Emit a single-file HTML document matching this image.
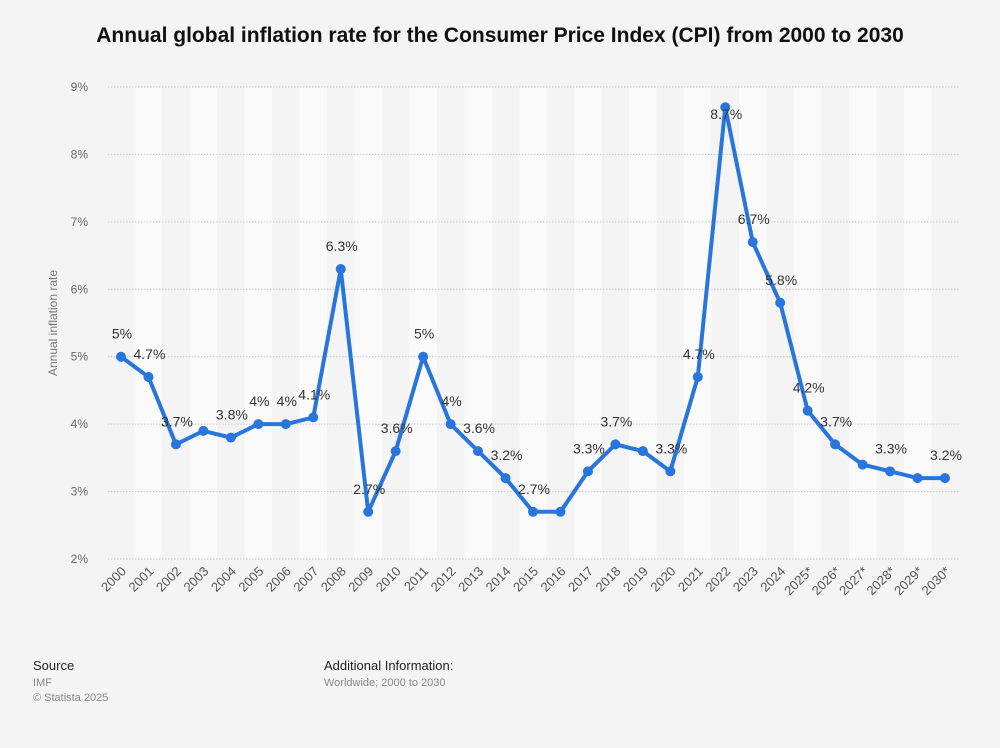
<!DOCTYPE html>
<html><head><meta charset="utf-8"><style>
body{margin:0;background:#f4f4f4;font-family:"Liberation Sans",sans-serif;}
#wrap{position:relative;width:1000px;height:743px;}
</style></head><body>
<div id="wrap">
<svg id="chart" width="1000" height="743">
<text x="500" y="42" text-anchor="middle" font-size="21" font-weight="bold" fill="#111">Annual global inflation rate for the Consumer Price Index (CPI) from 2000 to 2030</text>
<text transform="translate(57,323) rotate(-90)" text-anchor="middle" font-size="12" fill="#777">Annual inflation rate</text>
<g id="stripes"></g><g id="grid"></g><g id="line"></g><g id="pts"></g><g id="lbls"></g><g id="xt"></g>
<text x="33" y="670" font-size="13" fill="#222">Source</text>
<text x="33" y="686" font-size="11" fill="#888">IMF</text>
<text x="33" y="701" font-size="11" fill="#888">© Statista 2025</text>
<text x="324" y="670" font-size="13" fill="#222">Additional Information:</text>
<text x="324" y="686" font-size="11" fill="#888">Worldwide; 2000 to 2030</text>
</svg></div>
<script>
const years=["2000","2001","2002","2003","2004","2005","2006","2007","2008","2009","2010","2011","2012","2013","2014","2015","2016","2017","2018","2019","2020","2021","2022","2023","2024","2025*","2026*","2027*","2028*","2029*","2030*"];
const values=[5,4.7,3.7,3.9,3.8,4,4,4.1,6.3,2.7,3.6,5,4,3.6,3.2,2.7,2.7,3.3,3.7,3.6,3.3,4.7,8.7,6.7,5.8,4.2,3.7,3.4,3.3,3.2,3.2];
const showLabel=[1,1,1,0,1,1,1,1,1,1,1,1,1,1,1,1,0,1,1,0,1,1,1,1,1,1,1,0,1,0,1];
const yTicks=[2,3,4,5,6,7,8,9];
const NS="http://www.w3.org/2000/svg";
const X=i=>121+i*(945-121)/30;
const Y=v=>559-(v-2)*(559-87)/7;
function mk(t,a,p){const e=document.createElementNS(NS,t);for(const k in a)e.setAttribute(k,a[k]);document.getElementById(p).appendChild(e);return e;}
const step=(945-121)/30;
years.forEach((y,i)=>{if(i%2==1){const r=mk('rect',{x:X(i)-step/2,y:87,width:step,height:472,fill:'#fafafa'},'stripes');

}});
yTicks.forEach(t=>{const l=mk('line',{x1:108,x2:960,y1:Y(t),y2:Y(t),stroke:'#c8c8c8','stroke-dasharray':'1.5,1.5'},'grid');


const tx=mk('text',{x:88,y:Y(t)+4,'text-anchor':'end','font-size':12,fill:'#666'},'grid');tx.textContent=t+'%';

});
const p=mk('polyline',{points:values.map((v,i)=>X(i)+','+Y(v)).join(' '),fill:'none',stroke:'#2876dd','stroke-width':4,'stroke-linejoin':'round'},'line');


values.forEach((v,i)=>{const c=mk('circle',{cx:X(i),cy:Y(v),r:5,fill:'#2876dd'},'pts');


if(showLabel[i]){let ly=Y(v)-18;if(ly<95)ly=Y(v)+12;
const t=mk('text',{x:X(i)+1,y:ly,'text-anchor':'middle','font-size':14,fill:'#333'},'lbls');t.textContent=v+'%';

}
const xt=mk('text',{transform:`translate(${X(i)+6},572) rotate(-45)`,'text-anchor':'end','font-size':13,fill:'#555'},'xt');xt.textContent=years[i];

});
</script>
</body></html>
